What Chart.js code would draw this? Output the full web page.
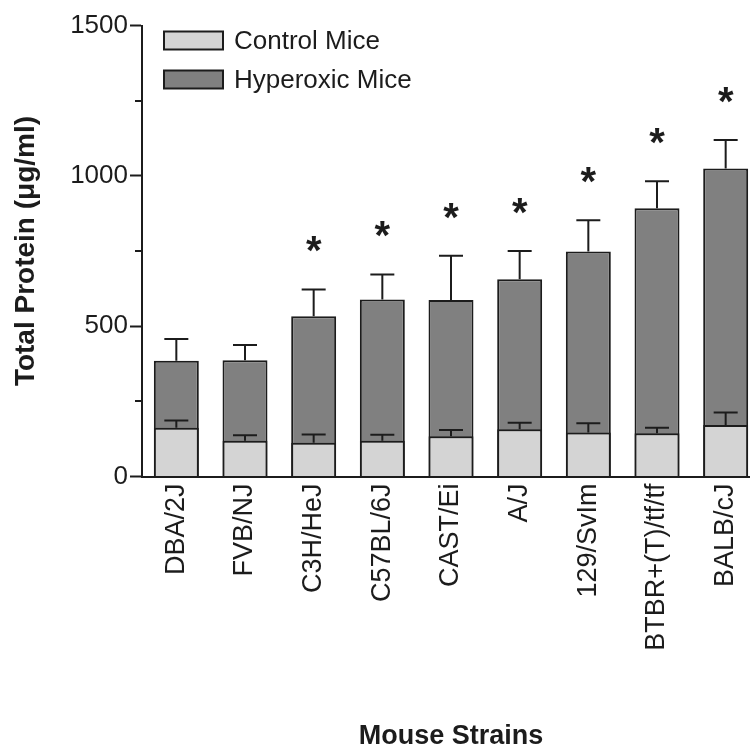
<!DOCTYPE html>
<html>
<head>
<meta charset="utf-8">
<script src="https://cdn.jsdelivr.net/npm/chart.js@4/dist/chart.umd.min.js"></script>
<style>
  html, body { margin: 0; padding: 0; background: #ffffff; overflow: hidden; }
  #wrap { width: 760px; height: 750px; }
</style>
</head>
<body>
<div id="wrap"><canvas id="c" width="760" height="750"></canvas></div>
<script>
// Total BAL protein (µg/ml) by mouse strain, mean ± SEM
const strains = ['DBA/2J', 'FVB/NJ', 'C3H/HeJ', 'C57BL/6J', 'CAST/Ei', 'A/J', '129/SvIm', 'BTBR+(T)/tf/tf', 'BALB/cJ'];
const controlMean   = [162, 119, 112, 119, 134, 157, 146, 144, 171];
const controlSem    = [24, 18, 28, 20, 21, 22, 31, 18, 42];
const hyperoxicMean = [385, 387, 533, 589, 587, 656, 748, 892, 1024];
const hyperoxicSem  = [72, 50, 89, 83, 147, 94, 104, 90, 95];
const significant   = [false, false, true, true, true, true, true, true, true];
const majorTicks = [0, 500, 1000, 1500];
const minorTicks = [250, 750, 1250];

const INK = '#1c1c1c';
const FONT = "'Liberation Sans', Arial, sans-serif";

// whiskers for every bar, then significance stars over the hyperoxic bars
const errorBars = {
  id: 'errorBars',
  afterDatasetsDraw(chart) {
    const { ctx } = chart;
    const y = chart.scales.y;
    ctx.save();
    ctx.strokeStyle = INK;
    ctx.lineWidth = 2;
    chart.data.datasets.forEach((ds, di) => {
      const meta = chart.getDatasetMeta(di);
      meta.data.forEach((bar, i) => {
        const top = y.getPixelForValue(ds.data[i] + ds.sem[i]);
        ctx.beginPath();
        ctx.moveTo(bar.x, bar.y);
        ctx.lineTo(bar.x, top);
        ctx.moveTo(bar.x - 12, top);
        ctx.lineTo(bar.x + 12, top);
        ctx.stroke();
      });
    });

    const hyper = chart.getDatasetMeta(1);
    ctx.fillStyle = INK;
    ctx.font = 'bold 40px ' + FONT;
    ctx.textAlign = 'center';
    ctx.textBaseline = 'alphabetic';
    const m = ctx.measureText('*');
    hyper.data.forEach((bar, i) => {
      if (!significant[i]) return;
      const top = y.getPixelForValue(hyperoxicMean[i] + hyperoxicSem[i]);
      const cy = top - 45;
      const base = cy - (m.actualBoundingBoxDescent - m.actualBoundingBoxAscent) / 2;
      ctx.fillText('*', bar.x, base);
    });
    ctx.restore();
  }
};

// short unlabeled tick marks between the labelled ones
const minorTickMarks = {
  id: 'minorTickMarks',
  afterDraw(chart) {
    const { ctx } = chart;
    const y = chart.scales.y;
    ctx.save();
    ctx.strokeStyle = INK;
    ctx.lineWidth = 2;
    minorTicks.forEach(v => {
      const py = Math.round(y.getPixelForValue(v));
      ctx.beginPath();
      ctx.moveTo(y.right - 7, py);
      ctx.lineTo(y.right, py);
      ctx.stroke();
    });
    ctx.restore();
  }
};

// legend boxes in the upper-left corner of the plot
const cornerLegend = {
  id: 'cornerLegend',
  afterDraw(chart) {
    const { ctx, chartArea } = chart;
    ctx.save();
    ctx.font = '26px ' + FONT;
    ctx.textBaseline = 'middle';
    ctx.textAlign = 'left';
    chart.data.datasets.forEach((ds, i) => {
      const bx = chartArea.left + 22;
      const by = chartArea.top + 6 + i * 39;
      ctx.fillStyle = ds.backgroundColor;
      ctx.fillRect(bx, by, 59, 18);
      ctx.strokeStyle = INK;
      ctx.lineWidth = 2;
      ctx.strokeRect(bx, by, 59, 18);
      ctx.fillStyle = INK;
      ctx.fillText(ds.label, bx + 70, by + 10);
    });
    ctx.restore();
  }
};

new Chart(document.getElementById('c'), {
  type: 'bar',
  data: {
    labels: strains,
    datasets: [
      {
        label: 'Control Mice',
        data: controlMean,
        sem: controlSem,
        backgroundColor: '#d4d4d4',
        borderColor: INK,
        borderWidth: 2,
        grouped: false,
        barPercentage: 0.655,
        categoryPercentage: 1
      },
      {
        label: 'Hyperoxic Mice',
        data: hyperoxicMean,
        sem: hyperoxicSem,
        backgroundColor: '#808080',
        borderColor: INK,
        borderWidth: 2,
        grouped: false,
        barPercentage: 0.655,
        categoryPercentage: 1
      }
    ]
  },
  options: {
    responsive: false,
    animation: false,
    devicePixelRatio: 1,
    layout: { padding: { top: 25.5, left: 0, right: 0, bottom: 0 } },
    plugins: {
      legend: { display: false },
      tooltip: { enabled: false }
    },
    scales: {
      x: {
        z: 1,
        grid: { display: false, drawTicks: false },
        border: { display: true, color: INK, width: 2 },
        ticks: {
          autoSkip: false,
          minRotation: 90,
          maxRotation: 90,
          padding: 7,
          color: INK,
          font: { family: FONT, size: 27 }
        },
        title: {
          display: true,
          text: 'Mouse Strains',
          color: INK,
          font: { family: FONT, size: 27, weight: 'bold' },
          padding: { top: 0, bottom: -3 }
        },
        afterFit(scale) {
          scale.height = 273.5;
          scale.paddingLeft = 0;
          scale.paddingRight = 0;
        }
      },
      y: {
        z: 1,
        min: 0,
        max: 1500,
        afterBuildTicks(scale) {
          scale.ticks = majorTicks.concat(minorTicks).sort((a, b) => a - b).map(v => ({ value: v }));
        },
        grid: {
          drawOnChartArea: false,
          drawTicks: true,
          tickLength: 12,
          tickWidth: 2,
          tickColor: c => (majorTicks.includes(c.tick.value) ? INK : 'rgba(0,0,0,0)')
        },
        border: { display: true, color: INK, width: 2 },
        ticks: {
          padding: 2,
          color: INK,
          font: { family: FONT, size: 26 },
          callback: v => (majorTicks.includes(v) ? String(v) : '')
        },
        title: {
          display: true,
          text: 'Total Protein (μg/ml)',
          color: INK,
          font: { family: FONT, size: 28, weight: 'bold' },
          padding: { top: 9, bottom: 0 }
        },
        afterFit(scale) { scale.width = 142; }
      }
    }
  },
  plugins: [errorBars, minorTickMarks, cornerLegend]
});
</script>
</body>
</html>
